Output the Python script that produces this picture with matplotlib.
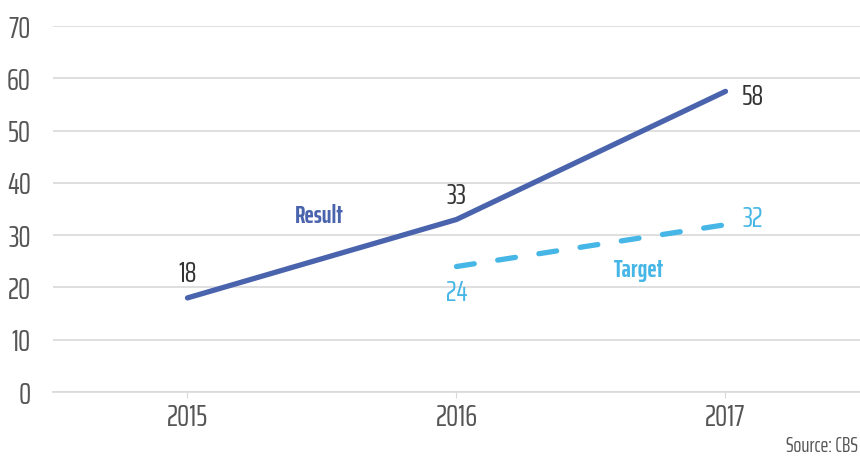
import matplotlib
matplotlib.use("Agg")
import matplotlib.pyplot as plt

FONT = "Saira ExtraCondensed"

years = ["2015", "2016", "2017"]
result = [18, 33, 57.5]
target_years = ["2016", "2017"]
target = [24, 32]
y_ticks = [0, 10, 20, 30, 40, 50, 60, 70]

c_result = "#4a63ad"
c_target = "#46b6e6"
c_text = "#555555"

fig = plt.figure(figsize=(8.6, 4.63), dpi=100)
ax = fig.add_axes([0.0616, 0.1533, 0.9384, 0.7905])

xr = [years.index(y) for y in years]
xt = [years.index(y) for y in target_years]

ax.plot(xr, result, color=c_result, lw=3.8, solid_capstyle="round", zorder=3)
ax.plot(xt, target, color=c_target, lw=3.8, dashes=(3.4, 4.5), dash_capstyle="round", zorder=3)

ax.set_xlim(-0.5, 2.5)
ax.set_ylim(0, 70)
ax.set_yticks(y_ticks)
ax.set_xticks(xr)
ax.set_xticklabels(years)
ax.grid(axis="y", color="#d9d9d9", lw=1.2)
ax.set_axisbelow(True)
for s in ["top", "right", "left"]:
    ax.spines[s].set_visible(False)
ax.spines["bottom"].set_color("#d9d9d9")
ax.spines["bottom"].set_linewidth(1.2)
ax.tick_params(axis="y", length=0, pad=16, labelsize=22, labelcolor=c_text)
ax.tick_params(axis="x", length=4, color="#d9d9d9", pad=4, labelsize=22, labelcolor=c_text)
for lab in ax.get_xticklabels() + ax.get_yticklabels():
    lab.set_family(FONT)
    lab.set_fontweight("normal")

lbl = dict(family=FONT, fontsize=21, fontweight="normal")
fmt = lambda v: f"{v:.0f}"
ax.annotate(fmt(result[0]), (xr[0], result[0]), xytext=(0, 7), textcoords="offset points",
            ha="center", va="bottom", color="#333333", **lbl)
ax.annotate(fmt(result[1]), (xr[1], result[1]), xytext=(0, 7), textcoords="offset points",
            ha="center", va="bottom", color="#333333", **lbl)
ax.annotate(fmt(result[2]), (xr[2], result[2]), xytext=(12, -4), textcoords="offset points",
            ha="left", va="center", color="#333333", **lbl)
ax.annotate(fmt(target[0]), (xt[0], target[0]), xytext=(0, -9), textcoords="offset points",
            ha="center", va="top", color=c_target, **lbl)
ax.annotate(fmt(target[1]), (xt[1], target[1]), xytext=(12, 4), textcoords="offset points",
            ha="left", va="center", color=c_target, **lbl)

ax.text(0.49, 33.6, "Result", color=c_result, family=FONT, fontsize=18, fontweight="bold",
        ha="center", va="center")
ax.text(1.68, 23.4, "Target", color=c_target, family=FONT, fontsize=18, fontweight="bold",
        ha="center", va="center")

fig.text(0.997, 0.015, "Source: CBS", ha="right", va="bottom", family=FONT,
         fontsize=15, fontweight="normal", color=c_text)

fig.savefig("out.png", dpi=100)
